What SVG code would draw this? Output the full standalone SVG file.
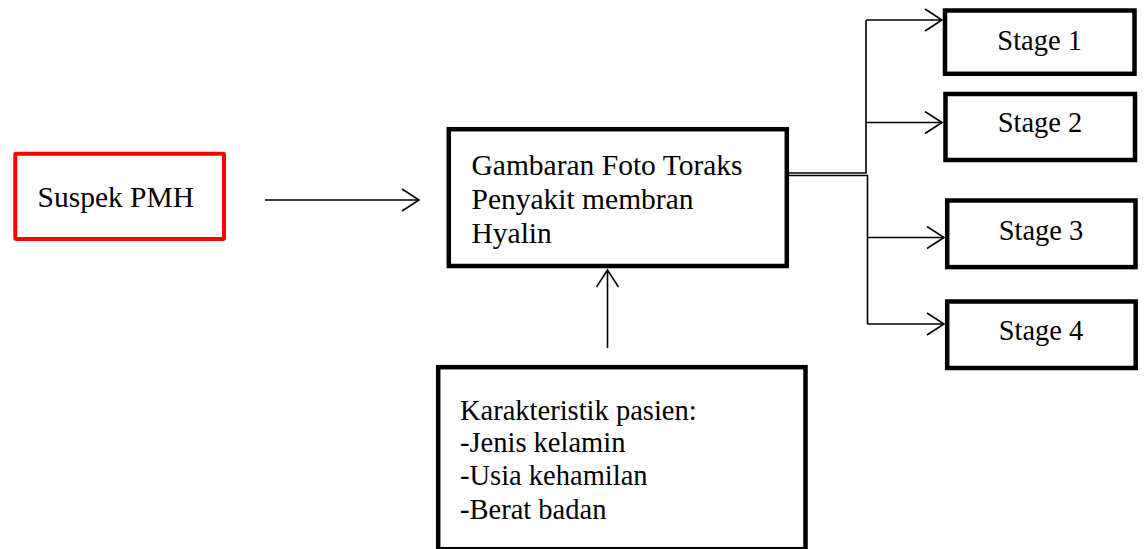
<svg xmlns="http://www.w3.org/2000/svg" width="1144" height="549" viewBox="0 0 1144 549">
<style>
  .box { fill: #ffffff; stroke: #000000; stroke-width: 4.5; }
  .red { fill: #ffffff; stroke: #ff0000; stroke-width: 4; }
  .t { font-family: 'Liberation Serif', Tinos, 'Times New Roman', serif; font-size: 28.5px; fill: #000000; }
  .big { font-size: 29.5px; }
  .c { text-anchor: middle; }
  .ln { fill: none; stroke: #000000; stroke-width: 1.6; }
</style>
<defs>
  <marker id="arr" viewBox="0 0 20 24" refX="18" refY="12" markerWidth="20" markerHeight="24" markerUnits="userSpaceOnUse" orient="auto">
    <path d="M1,1 L18,12 L1,23" fill="none" stroke="#000000" stroke-width="1.6"/>
  </marker>
</defs>
<rect width="1144" height="549" fill="#ffffff"/>

<g id="connectors">
  <line class="ln" x1="265" y1="200" x2="419" y2="200" marker-end="url(#arr)"/>
  <line class="ln" x1="607.5" y1="348" x2="607.5" y2="270" marker-end="url(#arr)"/>
  <polyline class="ln" points="789,173 866,173 866,20"/>
  <polyline class="ln" points="789,175.5 867.5,175.5 867.5,324"/>
  <line class="ln" x1="866" y1="20" x2="942" y2="20" marker-end="url(#arr)"/>
  <line class="ln" x1="866" y1="122.5" x2="942" y2="122.5" marker-end="url(#arr)"/>
  <line class="ln" x1="867.5" y1="237.5" x2="944" y2="237.5" marker-end="url(#arr)"/>
  <line class="ln" x1="867.5" y1="324" x2="944" y2="324" marker-end="url(#arr)"/>
</g>

<g id="node-suspek">
  <rect class="red" x="15.3" y="153.7" width="208.7" height="85.3" rx="1"/>
  <text class="t big" x="37.5" y="207">Suspek PMH</text>
</g>

<g id="node-gambaran">
  <rect class="box" x="448.8" y="129.2" width="338" height="136.8"/>
  <text class="t big" x="471.5" y="175">Gambaran Foto Toraks</text>
  <text class="t big" x="471.5" y="209">Penyakit membran</text>
  <text class="t big" x="471.5" y="243">Hyalin</text>
</g>

<g id="node-karakteristik">
  <rect class="box" x="438.2" y="367.2" width="367.3" height="182"/>
  <text class="t" x="460" y="419.5">Karakteristik pasien:</text>
  <text class="t" x="460" y="452">-Jenis kelamin</text>
  <text class="t" x="460" y="485">-Usia kehamilan</text>
  <text class="t" x="460" y="518.5">-Berat badan</text>
</g>

<g id="node-stage1">
  <rect class="box" x="945" y="10.5" width="189.5" height="63.3"/>
  <text class="t c" x="1039.7" y="50">Stage 1</text>
</g>
<g id="node-stage2">
  <rect class="box" x="945.5" y="94" width="189.5" height="66"/>
  <text class="t c" x="1040" y="131.7">Stage 2</text>
</g>
<g id="node-stage3">
  <rect class="box" x="947.2" y="200.5" width="188.3" height="66.6"/>
  <text class="t c" x="1041" y="240">Stage 3</text>
</g>
<g id="node-stage4">
  <rect class="box" x="947.2" y="301.5" width="188.5" height="66.5"/>
  <text class="t c" x="1041" y="340">Stage 4</text>
</g>
</svg>
